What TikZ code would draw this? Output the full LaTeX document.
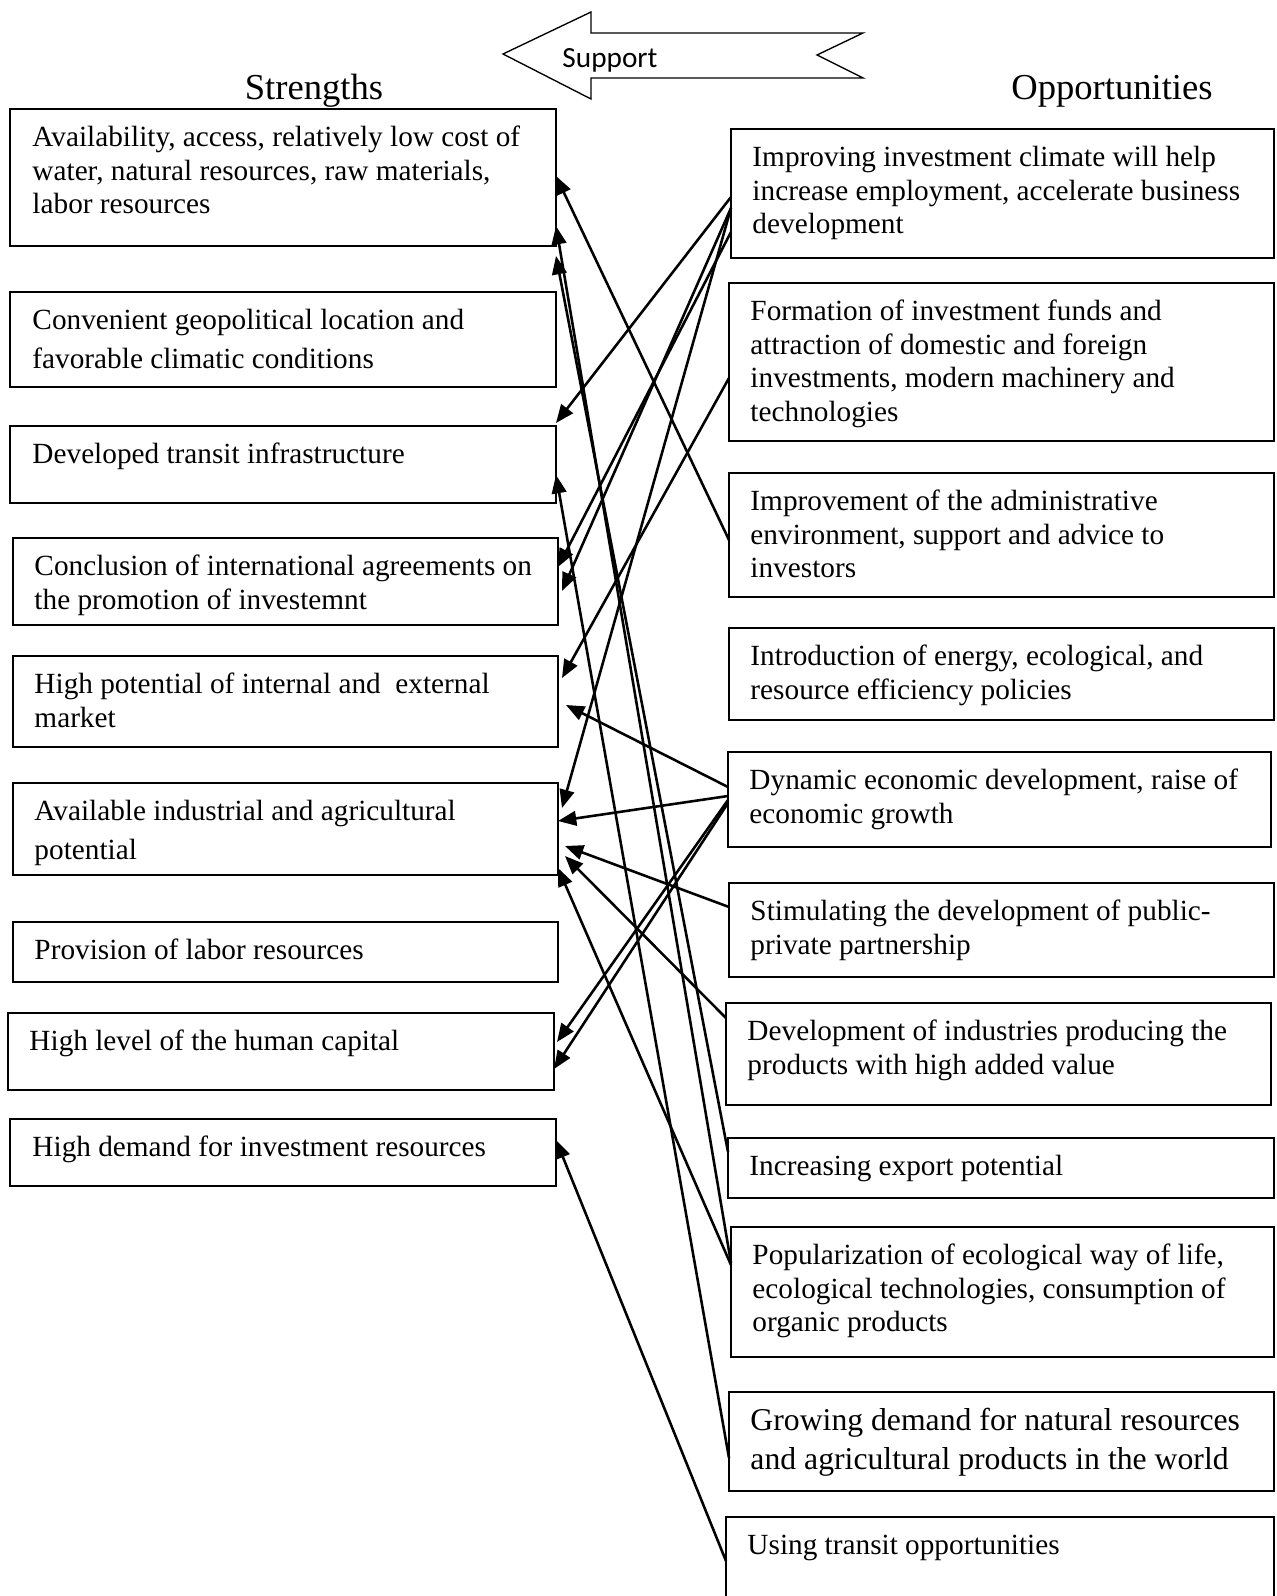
\documentclass[tikz,border=0pt]{standalone}
\usepackage{fontspec}
\setmainfont{Liberation Serif}
\newfontfamily\supfont{Carlito}
\usetikzlibrary{arrows.meta,fit,calc}
\newcommand\myst{\rule{0pt}{10pt}}
\begin{document}
\begin{tikzpicture}[x=0.41pt,y=-0.41pt,
  box/.style={draw, line width=0.9pt, inner sep=0pt, outer sep=0pt},
  txt/.style={anchor=north west, inner sep=0pt, align=left, font=\fontsize{12}{13.8}\selectfont},
  wide/.style={font=\fontsize{12}{15.8}\selectfont},
  big/.style={font=\fontsize{13}{15.8}\selectfont},
  head/.style={anchor=base, inner sep=0pt, font=\fontsize{15}{18}\selectfont},
  arr/.style={line width=1.05pt, -{Triangle[length=7.5pt,width=6pt]}}]
\useasboundingbox (0,0) rectangle (1276,1596);

% support arrow
\draw[line width=0.55pt] (503,54) -- (591,12) -- (591,33) -- (863,33) -- (817,55) -- (863,78) -- (591,78) -- (591,99) -- cycle;
\node[anchor=base west, inner sep=0pt, font=\supfont\fontsize{12}{14}\selectfont] (sup) at (562,68) {Support};

\node[head] (hs) at (314,100) {Strengths};
\node[head] (ho) at (1112,100) {Opportunities};

% left boxes
\node[box, fit={(10,109)(556,246)}] (lb1) {};
\node[box, fit={(10,292)(556,387)}] (lb2) {};
\node[box, fit={(10,426)(556,503)}] (lb3) {};
\node[box, fit={(13,538)(558,625)}] (lb4) {};
\node[box, fit={(13,656)(558,747)}] (lb5) {};
\node[box, fit={(13,783)(558,875)}] (lb6) {};
\node[box, fit={(13,922)(558,982)}] (lb7) {};
\node[box, fit={(8,1013)(554,1090)}] (lb8) {};
\node[box, fit={(10,1119)(556,1186)}] (lb9) {};

\node[txt] (lb1t) at ($(lb1.north west)+(22,12.6)$) {\myst Availability, access, relatively low cost of\\water, natural resources, raw materials,\\labor resources};
\node[txt, wide] (lb2t) at ($(lb2.north west)+(22,12.6)$) {\myst Convenient geopolitical location and\\favorable climatic conditions};
\node[txt] (lb3t) at ($(lb3.north west)+(22,12.6)$) {\myst Developed transit infrastructure};
\node[txt] (lb4t) at ($(lb4.north west)+(21,12.6)$) {\myst Conclusion of international agreements on\\the promotion of investemnt};
\node[txt] (lb5t) at ($(lb5.north west)+(21,12.6)$) {\myst High potential of internal and\ \ external\\market};
\node[txt, wide] (lb6t) at ($(lb6.north west)+(21,12.6)$) {\myst Available industrial and agricultural\\potential};
\node[txt] (lb7t) at ($(lb7.north west)+(21,12.6)$) {\myst Provision of labor resources};
\node[txt] (lb8t) at ($(lb8.north west)+(21,12.6)$) {\myst High level of the human capital};
\node[txt] (lb9t) at ($(lb9.north west)+(22,12.6)$) {\myst High demand for investment resources};

% right boxes
\node[box, fit={(731,129)(1274,258)}] (rb1) {};
\node[box, fit={(729,283)(1274,441)}] (rb2) {};
\node[box, fit={(729,473)(1274,597)}] (rb3) {};
\node[box, fit={(729,628)(1274,720)}] (rb4) {};
\node[box, fit={(728,752)(1271,847)}] (rb5) {};
\node[box, fit={(729,883)(1274,977)}] (rb6) {};
\node[box, fit={(726,1003)(1271,1105)}] (rb7) {};
\node[box, fit={(728,1138)(1274,1198)}] (rb8) {};
\node[box, fit={(731,1227)(1274,1357)}] (rb9) {};
\node[box, fit={(729,1392)(1274,1491)}] (rb10) {};
\node[box, fit={(726,1517)(1274,1598)}] (rb11) {};

\node[txt] (rb1t) at ($(rb1.north west)+(21,12.6)$) {\myst Improving investment climate will help\\increase employment, accelerate business\\development};
\node[txt] (rb2t) at ($(rb2.north west)+(21,12.6)$) {\myst Formation of investment funds and\\attraction of domestic and foreign\\investments, modern machinery and\\technologies};
\node[txt] (rb3t) at ($(rb3.north west)+(21,12.6)$) {\myst Improvement of the administrative\\environment, support and advice to\\investors};
\node[txt] (rb4t) at ($(rb4.north west)+(21,12.6)$) {\myst Introduction of energy, ecological, and\\resource efficiency policies};
\node[txt] (rb5t) at ($(rb5.north west)+(21,12.6)$) {\myst Dynamic economic development, raise of\\economic growth};
\node[txt] (rb6t) at ($(rb6.north west)+(21,12.6)$) {\myst Stimulating the development of public-\\private partnership};
\node[txt] (rb7t) at ($(rb7.north west)+(21,12.6)$) {\myst Development of industries producing the\\products with high added value};
\node[txt] (rb8t) at ($(rb8.north west)+(21,12.6)$) {\myst Increasing export potential};
\node[txt] (rb9t) at ($(rb9.north west)+(21,12.6)$) {\myst Popularization of ecological way of life,\\ecological technologies, consumption of\\organic products};
\node[txt, big] (rb10t) at ($(rb10.north west)+(21,14)$) {\myst Growing demand for natural resources\\and agricultural products in the world};
\node[txt] (rb11t) at ($(rb11.north west)+(21,12.6)$) {\myst Using transit opportunities};

% connectors
\draw[arr] (rb3.west |- 0,540) -- (lb1.east |- 0,176);
\draw[arr] (rb9.west |- 0,1263) -- (lb1.east |- 0,226);
\draw[arr] (rb8.west |- 0,1152) -- (lb1.east |- 0,256);
\draw[arr] (rb1.west |- 0,197) -- (lb3.east |- 0,423);
\draw[arr] (rb10.west |- 0,1458) -- (lb3.east |- 0,475);
\draw[arr] (rb1.west |- 0,232) -- (lb4.east |- 0,567);
\draw[arr] (rb1.west |- 0,208) -- ($(lb4.east |- 0,591)+(4,0)$);
\draw[arr] (rb2.west |- 0,378) -- ($(lb5.east |- 0,678)+(4,0)$);
\draw[arr] (rb5.west |- 0,787) -- ($(lb5.east |- 0,705)+(8,0)$);
\draw[arr] (rb5.west |- 0,796) -- (lb6.east |- 0,821);
\draw[arr] (rb1.west |- 0,208) -- ($(lb6.east |- 0,808)+(4,0)$);
\draw[arr] (rb6.west |- 0,907) -- ($(lb6.east |- 0,846)+(7,0)$);
\draw[arr] (rb7.west |- 0,1018) -- ($(lb6.east |- 0,856)+(7,0)$);
\draw[arr] (rb9.west |- 0,1265) -- (lb6.east |- 0,868);
\draw[arr] (rb5.west |- 0,800) -- ($(lb8.east |- 0,1042)+(3,0)$);
\draw[arr] (rb5.west |- 0,803) -- (lb8.east |- 0,1069);
\draw[arr] (rb11.west |- 0,1561) -- (lb9.east |- 0,1140);
\end{tikzpicture}
\end{document}
